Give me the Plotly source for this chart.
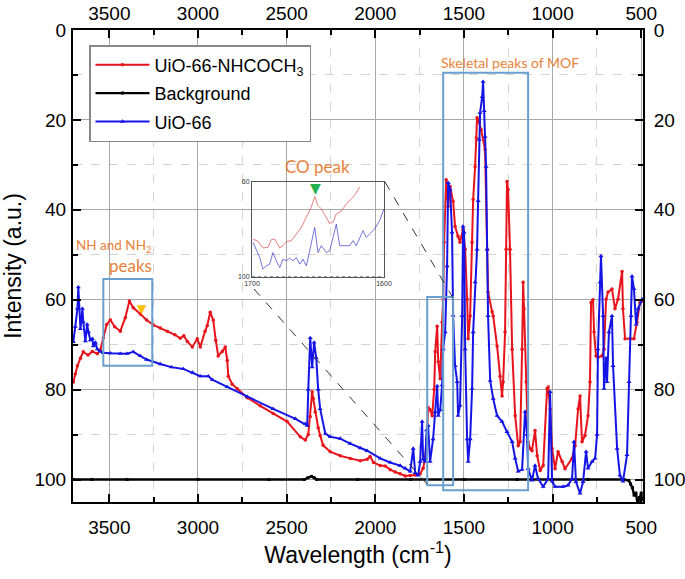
import plotly.graph_objects as go

# ---------------- data ----------------
red_wn = [3703, 3692, 3680, 3663, 3647, 3620, 3596, 3568, 3551, 3534, 3515, 3494, 3470, 3438, 3410, 3387,
          3365, 3325, 3290, 3252, 3213, 3173, 3130, 3100, 3080, 3060, 3032, 3004, 2987, 2960, 2948, 2931,
          2914, 2900, 2886, 2863, 2846, 2835, 2829, 2807, 2778, 2722, 2649, 2576, 2497, 2423, 2395, 2378,
          2367, 2356, 2350, 2339, 2322, 2311, 2294, 2254, 2198, 2141, 2085, 2046, 2029, 2010, 1972, 1944,
          1916, 1888, 1860, 1831, 1803, 1775, 1747, 1730, 1719, 1710, 1702, 1691, 1679, 1668, 1662, 1651,
          1645, 1634, 1623, 1617, 1612, 1600, 1589, 1578, 1561, 1550, 1533, 1522, 1505, 1493, 1482, 1476,
          1465, 1454, 1448, 1437, 1430, 1426, 1414, 1403, 1381, 1369, 1364, 1341, 1335, 1313, 1296, 1285,
          1279, 1268, 1262, 1257, 1251, 1240, 1228, 1211, 1194, 1183, 1172, 1166, 1161, 1149, 1138, 1127,
          1116, 1099, 1087, 1070, 1053, 1031, 1025, 1014, 1003, 986, 969, 946, 930, 890, 873, 856, 845,
          834, 817, 800, 789, 783, 772, 766, 755, 744, 721, 710, 698, 687, 665, 648, 631, 608, 603, 591,
          563, 541, 524, 507, 495]
red_val = [78.3, 76.5, 74.7, 73.0, 71.6, 72.3, 71.5, 72.0, 71.2, 68.5, 65.5, 64.5, 66.0, 67.0, 64.0, 60.3,
           61.8, 63.2, 64.5, 65.6, 66.3, 67.0, 67.8, 68.6, 68.0, 69.3, 70.5, 68.7, 70.5, 67.0, 65.8, 62.8,
           64.5, 69.0, 72.5, 71.5, 70.5, 73.5, 77.0, 78.8, 79.8, 81.8, 83.6, 85.3, 87.1, 90.5, 91.2, 90.0,
           86.0, 80.5, 82.0, 85.0, 88.5, 90.2, 92.4, 93.8, 94.7, 95.3, 95.8, 95.5, 94.9, 96.2, 96.9, 97.0,
           97.8, 98.3, 98.7, 99.2, 99.1, 99.0, 98.7, 97.5, 95.3, 91.0, 84.0, 84.5, 85.8, 80.0, 71.6, 65.9,
           73.8, 77.6, 65.0, 59.9, 47.2, 33.3, 39.2, 34.8, 38.1, 43.7, 45.9, 47.2, 44.3, 48.8, 59.9, 68.7,
           63.6, 47.2, 37.7, 30.4, 24.0, 19.5, 20.6, 22.2, 26.6, 48.8, 58.3, 62.7, 63.6, 70.3, 77.0, 81.4,
           78.3, 67.2, 48.8, 33.7, 35.5, 48.8, 71.0, 85.8, 92.5, 91.6, 71.0, 56.1, 62.0, 78.3, 91.6, 93.1,
           93.6, 89.1, 94.7, 98.0, 96.9, 79.8, 79.4, 84.3, 93.1, 97.6, 93.8, 96.0, 97.6, 95.3, 92.5, 84.3, 81.4,
           91.6, 90.2, 85.8, 78.3, 60.6, 60.0, 67.2, 72.5, 72.8, 72.5, 71.0, 59.9, 58.3, 57.6, 62.0, 59.9, 53.7, 62.0, 68.7,
           68.7, 68.7, 65.0, 60.6, 60.3]

bg_wn = [3703, 3600, 3400, 3000, 2600, 2400, 2380, 2360, 2345, 2330, 2100, 1800, 1500, 1200, 1000, 800,
         600, 570, 560, 550, 540, 530, 520, 510, 500, 495]
bg_val = [100.0, 100.0, 100.0, 100.0, 100.0, 100.0, 99.6, 99.3, 99.6, 100.0, 100.0, 100.0, 100.0, 100.0,
          100.0, 100.0, 100.0, 100.2, 101.0, 101.8, 103.5, 103.0, 105.5, 104.0, 103.0, 104.5]

blue_wn = [3703, 3692, 3680, 3675, 3663, 3652, 3647, 3635, 3625, 3618, 3607, 3596, 3590, 3579, 3568, 3551,
           3534, 3494, 3438, 3400, 3365, 3325, 3290, 3213, 3150, 3083, 3030, 2987, 2942, 2920, 2835, 2722,
           2576, 2450, 2395, 2384, 2378, 2367, 2356, 2345, 2333, 2322, 2311, 2282, 2254, 2198, 2141, 2085,
           2046, 1972, 1916, 1860, 1831, 1803, 1786, 1775, 1758, 1747, 1736, 1730, 1719, 1710, 1702, 1691,
           1674, 1662, 1651, 1645, 1634, 1623, 1617, 1606, 1595, 1589, 1578, 1567, 1561, 1550, 1538, 1533,
           1522, 1510, 1505, 1499, 1493, 1482, 1476, 1465, 1454, 1448, 1437, 1426, 1420, 1414, 1409, 1397,
           1392, 1386, 1381, 1375, 1369, 1364, 1352, 1335, 1313, 1285, 1257, 1228, 1211, 1194, 1172, 1155,
           1144, 1138, 1116, 1099, 1082, 1053, 1025, 1014, 1003, 986, 941, 913, 890, 879, 868, 845, 828,
           811, 800, 777, 760, 749, 744, 732, 727, 715, 710, 698, 693, 682, 665, 659, 636, 620, 603, 580,
           569, 557, 552, 541, 529, 518, 495]
blue_val = [69.4, 66.0, 62.0, 57.2, 66.5, 62.0, 65.0, 69.2, 65.5, 67.2, 69.0, 68.7, 70.3, 69.5, 71.0, 71.5,
            71.8, 71.9, 72.0, 72.0, 71.6, 72.5, 73.3, 74.3, 75.0, 75.4, 76.2, 77.0, 77.0, 77.8, 79.4, 81.6,
            84.3, 86.5, 87.6, 88.0, 80.0, 68.5, 75.0, 69.5, 73.0, 80.0, 84.3, 89.8, 90.5, 90.9, 92.0, 93.0,
            93.6, 95.3, 96.2, 96.9, 97.5, 98.2, 93.1, 98.5, 99.1, 96.0, 87.1, 95.5, 96.0, 89.0, 88.0, 96.0,
            91.0, 85.0, 79.2, 85.8, 84.5, 79.0, 71.0, 67.2, 52.5, 34.0, 35.5, 45.0, 63.5, 74.7, 78.3, 85.8,
            83.5, 63.6, 43.7, 45.0, 71.0, 91.0, 96.0, 91.0, 79.8, 67.2, 56.1, 48.8, 38.0, 24.4, 18.4, 14.9,
            11.5, 18.0, 23.7, 30.4, 48.8, 63.6, 78.0, 82.0, 85.8, 87.1, 89.4, 91.6, 95.3, 98.2, 97.8, 84.9,
            90.0, 97.6, 100.2, 96.9, 99.8, 101.6, 99.8, 80.5, 100.4, 101.6, 101.6, 101.3, 99.8, 91.6, 100.5, 103.1, 100.5,
            93.8, 97.5, 96.0, 95.3, 90.0, 71.0, 56.1, 50.3, 63.6, 79.8, 73.0, 78.3, 67.2, 63.6, 74.7, 93.1, 99.1, 100.4, 94.5,
            78.3, 63.6, 54.8, 57.6, 65.5, 62.0, 59.9]

# inset (CO peak zoom, 1700-1600 cm-1)
inset_red_wn = [1699.2, 1695.5, 1691.7, 1687.9, 1685.4, 1682.8, 1679.0, 1676.5, 1674.0, 1670.2, 1666.4,
                1662.6, 1660.1, 1657.6, 1655.1, 1652.5, 1650.0, 1647.5, 1643.7, 1641.2, 1638.6, 1636.1,
                1632.3, 1628.5, 1624.7, 1622.2, 1618.4]
inset_red_val = [84.0, 85.0, 87.8, 87.5, 84.3, 84.0, 87.8, 86.8, 85.1, 84.7, 81.9, 79.1, 76.2, 73.4, 70.6,
                 66.1, 69.9, 71.3, 74.8, 77.4, 76.9, 73.4, 72.3, 69.2, 67.1, 65.6, 62.1]
inset_blue_wn = [1699.2, 1696.7, 1694.2, 1691.7, 1689.1, 1686.6, 1684.1, 1681.6, 1679.0, 1676.5, 1674.0,
                 1671.5, 1668.9, 1666.4, 1663.9, 1661.4, 1658.8, 1656.3, 1652.5, 1650.0, 1647.5, 1643.7,
                 1641.2, 1638.6, 1636.1, 1633.6, 1629.8, 1626.0, 1623.5, 1621.0, 1615.9, 1613.4, 1610.9,
                 1607.1, 1603.3, 1600.0]
inset_blue_val = [85.4, 88.9, 91.8, 96.7, 95.3, 94.6, 89.7, 93.2, 96.0, 92.5, 93.2, 92.1, 93.2, 91.8, 94.6,
                  92.5, 95.3, 89.0, 79.1, 89.7, 86.8, 89.7, 89.0, 83.3, 77.7, 86.8, 86.8, 86.8, 84.7, 86.8,
                  80.5, 83.3, 81.9, 79.8, 76.2, 71.3]
inset_bg_wn = [1700, 1600]
inset_bg_val = [100, 100]

x_ticks = [3500, 3000, 2500, 2000, 1500, 1000, 500]
y_ticks = [0, 20, 40, 60, 80, 100]

# ---------------- layout helpers ----------------
W, H = 685, 579
L, R, T, B = 73, 643, 30, 502   # plot area in page pixels


def px(x):
    return (x - L) / (R - L)


def py(y):
    return (B - y) / (B - T)


RED = "#e8141c"
BLUE = "#1414e6"
ORANGE = "#e8823a"
BOX = "#6a9fcf"
FONT = "Liberation Sans, Arial, sans-serif"
CAL = "Lato, Carlito, sans-serif"

fig = go.Figure()
fig.add_trace(go.Scatter(x=red_wn, y=red_val, mode="lines+markers", name="UiO-66-NHCOCH<sub>3</sub>",
                         line=dict(color=RED, width=2), marker=dict(color=RED, size=3.5, symbol="circle"),
                         legendgroup="a"))
fig.add_trace(go.Scatter(x=bg_wn, y=bg_val, mode="lines+markers", name="Background",
                         line=dict(color="black", width=2.4), marker=dict(color="black", size=3, symbol="square"),
                         legendgroup="b"))
fig.add_trace(go.Scatter(x=blue_wn, y=blue_val, mode="lines+markers", name="UiO-66",
                         line=dict(color=BLUE, width=2), marker=dict(color=BLUE, size=4.5, symbol="triangle-up"),
                         legendgroup="c"))
# top/right mirror axes
fig.add_trace(go.Scatter(x=[None], y=[None], xaxis="x2", yaxis="y2", showlegend=False, hoverinfo="skip"))
# inset
fig.add_trace(go.Scatter(x=inset_red_wn, y=inset_red_val, mode="lines", xaxis="x3", yaxis="y3",
                         line=dict(color="#e06060", width=0.8), showlegend=False))
fig.add_trace(go.Scatter(x=inset_blue_wn, y=inset_blue_val, mode="lines", xaxis="x3", yaxis="y3",
                         line=dict(color="#5050d0", width=0.8), showlegend=False))
fig.add_trace(go.Scatter(x=inset_bg_wn, y=inset_bg_val, mode="lines", xaxis="x3", yaxis="y3",
                         line=dict(color="#333", width=1, dash="dot"), showlegend=False))

xr = [3705, 490]
yr = [105, 0]
common_x = dict(range=xr, tickmode="array", tickvals=x_ticks, ticks="inside", ticklen=8, tickwidth=1.5,
                tickcolor="black", showline=True, linecolor="black", linewidth=2, automargin=False,
                tickfont=dict(family=FONT, size=19, color="black"), zeroline=False)
common_y = dict(range=yr, tickmode="array", tickvals=y_ticks, ticks="inside", ticklen=8, tickwidth=1.5,
                tickcolor="black", showline=True, linecolor="black", linewidth=2, automargin=False,
                tickfont=dict(family=FONT, size=19, color="black"), zeroline=False)

fig.update_layout(
    width=W, height=H,
    margin=dict(l=L, r=W - R, t=T, b=H - B, pad=0, autoexpand=False),
    paper_bgcolor="white", plot_bgcolor="rgba(0,0,0,0)",
    xaxis=dict(**common_x, showgrid=True, gridcolor="#a8a8a8", gridwidth=1,
               minor=dict(dtick=250, ticks="inside", ticklen=5, tickcolor="black", showgrid=True,
                          gridcolor="#d4d4d4", griddash="dash", gridwidth=1),
               ticklabelstandoff=7,
               title=dict(text="Wavelength (cm<sup>-1</sup>)", font=dict(family=FONT, size=23, color="black"),
                          standoff=10)),
    yaxis=dict(**common_y, showgrid=True, gridcolor="#a8a8a8", gridwidth=1,
               minor=dict(dtick=10, ticks="inside", ticklen=5, tickcolor="black", showgrid=True,
                          gridcolor="#d4d4d4", griddash="dash", gridwidth=1),
               ticklabelstandoff=1,
               title=dict(text="Intensity (a.u.)", font=dict(family=FONT, size=23, color="black"), standoff=8)),
    xaxis2=dict(**common_x, overlaying="x", side="top", anchor="y", showgrid=False,
                minor=dict(dtick=250, ticks="inside", ticklen=5, tickcolor="black"), ticklabelstandoff=0),
    yaxis2=dict(**common_y, overlaying="y", side="right", anchor="x", showgrid=False,
                minor=dict(dtick=10, ticks="inside", ticklen=5, tickcolor="black"), ticklabelstandoff=5),
    xaxis3=dict(domain=[px(252), px(384)], anchor="y3", range=[1700, 1600], tickmode="array",
                tickvals=[1700, 1600], ticks="", showline=True, mirror=True, linecolor="#555", linewidth=1,
                tickfont=dict(family=FONT, size=7, color="#333"), showgrid=True, gridcolor="#dddddd",
                griddash="dot", zeroline=False, automargin=False),
    yaxis3=dict(domain=[py(277), py(182)], anchor="x3", range=[100, 60], tickmode="array",
                tickvals=[60, 100], ticks="", showline=True, mirror=True, linecolor="#555", linewidth=1,
                tickfont=dict(family=FONT, size=7, color="#333"), showgrid=True, gridcolor="#dddddd",
                griddash="dot", zeroline=False, automargin=False),
    legend=dict(x=px(89), y=py(45), xanchor="left", yanchor="top", bgcolor="white", bordercolor="#888",
                borderwidth=1.5, font=dict(family=FONT, size=18, color="black"), tracegroupgap=2,
                itemwidth=54),
    showlegend=True,
)

shape_line = dict(color=BOX, width=2)
fig.add_shape(type="rect", xref="x", yref="y", x0=1617, x1=1138, y0=9.5, y1=102.4, line=shape_line)
fig.add_shape(type="rect", xref="x", yref="y", x0=1707, x1=1561, y0=59.4, y1=101.3, line=shape_line)
fig.add_shape(type="rect", xref="x", yref="y", x0=3534, x1=3258, y0=55.4, y1=74.7, line=shape_line)
fig.add_shape(type="line", xref="paper", yref="paper", x0=px(385), y0=py(182), x1=px(453), y1=py(298),
              line=dict(color="#333", width=1, dash="dash"))
fig.add_shape(type="line", xref="paper", yref="paper", x0=px(254), y0=py(289), x1=px(427), y1=py(484),
              line=dict(color="#333", width=1, dash="dash"))


def note(text, x, y, size, color=ORANGE, family=CAL):
    fig.add_annotation(text=text, xref="paper", yref="paper", x=px(x), y=py(y), showarrow=False,
                       font=dict(family=family, size=size, color=color), xanchor="center", yanchor="middle")


note("Skeletal peaks of MOF", 510, 62, 14)
note("CO peak", 317, 166, 17)
note("NH and NH<sub>2</sub>", 113, 246, 13.5)
note("peaks", 130, 265, 17)
note("▼", 315, 188, 14, color="#22b14c", family="DejaVu Sans")
note("▼", 142, 309, 12, color="#ffc000", family="DejaVu Sans")

# remove the browser's default 8px body margin so the figure starts at the page corner
fig.write_html("out.html", config={"displayModeBar": False},
               post_script="document.body.style.margin='0px';")
